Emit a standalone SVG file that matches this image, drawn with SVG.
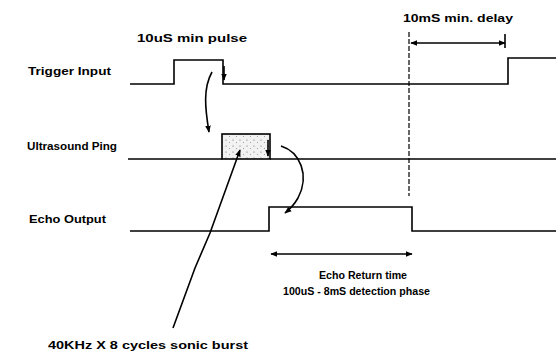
<svg xmlns="http://www.w3.org/2000/svg" width="556" height="354" viewBox="0 0 556 354">
<defs>
<style>
.t{font-family:"Liberation Sans",Arial,sans-serif;font-size:11px;fill:#000;font-weight:bold}
.s{fill:none;stroke:#000;stroke-width:1.6}
.d{fill:none;stroke:#000;stroke-width:1.2;stroke-dasharray:5 2}
</style>
<marker id="ah" viewBox="0 0 10 10" refX="9" refY="5" markerWidth="7" markerHeight="7" orient="auto-start-reverse" markerUnits="userSpaceOnUse">
<path d="M0,1 L10,5 L0,9 Z" fill="#000"/>
</marker>
<pattern id="dots" width="7" height="6" patternUnits="userSpaceOnUse">
<rect width="7" height="6" fill="#f2f2f2"/>
<circle cx="2" cy="2" r="0.6" fill="#666"/>
<circle cx="5.5" cy="4.5" r="0.5" fill="#888"/>
</pattern>
</defs>
<rect width="556" height="354" fill="#fff"/>
<g id="labels">
<text class="t" x="28" y="75" textLength="83" lengthAdjust="spacingAndGlyphs">Trigger Input</text>
<text class="t" x="27" y="150" textLength="90" lengthAdjust="spacingAndGlyphs">Ultrasound Ping</text>
<text class="t" x="29" y="223" textLength="77" lengthAdjust="spacingAndGlyphs">Echo Output</text>
<text class="t" x="137" y="42" font-size="12" textLength="110" lengthAdjust="spacingAndGlyphs">10uS min pulse</text>
<text class="t" x="403" y="22" textLength="110" lengthAdjust="spacingAndGlyphs">10mS min. delay</text>
<text class="t" x="319" y="279" textLength="88" lengthAdjust="spacingAndGlyphs">Echo Return time</text>
<text class="t" x="283" y="295" textLength="147" lengthAdjust="spacingAndGlyphs">100uS - 8mS detection phase</text>
<text class="t" x="48" y="349" textLength="200" lengthAdjust="spacingAndGlyphs">40KHz X  8 cycles sonic burst</text>
</g>
<g id="trigger">
<polyline class="s" points="130,84 174,84 174,60 223,60 223,84 508,84 508,58 556,58"/>
</g>
<g id="ping">
<rect x="222" y="134" width="48" height="25" fill="url(#dots)" stroke="#000" stroke-width="1.6"/>
<polyline class="s" points="128,159 222,159"/>
<polyline class="s" points="270,159 556,159"/>
</g>
<g id="echo">
<polyline class="s" points="130,231 269,231 269,207 412,207 412,231 556,231"/>
</g>
<g id="connectors">
<line class="d" x1="409" y1="32" x2="409" y2="196"/>
<line class="s" x1="411" y1="43" x2="505" y2="43" marker-start="url(#ah)" marker-end="url(#ah)"/>
<line class="s" x1="505" y1="34" x2="505" y2="48" stroke-width="1.2"/>
<line class="s" x1="224" y1="66" x2="224" y2="80" marker-end="url(#ah)"/>
<path class="s" d="M212,72 C203,88 205,108 209,132" marker-end="url(#ah)"/>
<line class="s" x1="268" y1="140" x2="268" y2="156" marker-end="url(#ah)"/>
<path class="s" d="M281,146 C300,152 310,175 298,198 C294,205 290,209 285,213" marker-end="url(#ah)"/>
<path class="s" d="M173,328 L195,268 L210,233 L240,150" marker-end="url(#ah)"/>
<line class="s" x1="271" y1="254" x2="412" y2="254" marker-start="url(#ah)" marker-end="url(#ah)"/>
</g>
</svg>
